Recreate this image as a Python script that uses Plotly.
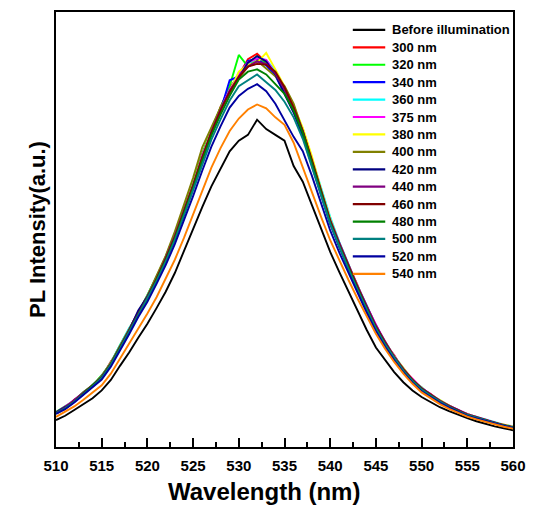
import plotly.graph_objects as go

wavelength = [510, 511, 512, 513, 514, 515, 516, 517, 518, 519,
              520, 521, 522, 523, 524, 525, 526, 527, 528, 529,
              530, 531, 532, 533, 534, 535, 536, 537, 538, 539,
              540, 541, 542, 543, 544, 545, 546, 547, 548, 549,
              550, 551, 552, 553, 554, 555, 556, 557, 558, 559, 560]

before = [69, 80, 95, 110, 125, 145, 172, 208, 242, 280,
          316, 356, 398, 446, 502, 561, 615, 668, 712, 758,
          785, 800, 839, 815, 800, 785, 720, 680, 620, 560,
          500, 448, 398, 348, 300, 255, 222, 192, 166, 145,
          128, 114, 102, 92, 82, 74, 66, 59, 53, 48, 43]
nm300 = [89, 97, 121, 135, 160, 179, 219, 252, 302, 346,
         381, 436, 478, 543, 612, 671, 750, 804, 872, 921,
         953, 994, 1008, 986, 965, 912, 871, 798, 732, 648,
         583, 515, 466, 414, 353, 311, 265, 236, 196, 174,
         149, 136, 116, 107, 92, 85, 75, 70, 61, 57, 51]
nm320 = [90, 104, 119, 141, 158, 184, 216, 261, 303, 344,
         390, 436, 488, 546, 610, 680, 752, 815, 872, 925,
         1005, 975, 1002, 982, 955, 910, 860, 802, 725, 655,
         575, 520, 458, 410, 355, 312, 263, 233, 201, 170,
         153, 131, 120, 104, 95, 82, 77, 68, 63, 55, 52]
nm340 = [88, 101, 116, 139, 155, 182, 212, 259, 297, 343,
         380, 430, 486, 536, 603, 668, 740, 806, 862, 940,
         950, 990, 995, 978, 952, 905, 858, 796, 722, 645,
         572, 512, 458, 402, 355, 303, 265, 228, 198, 170,
         148, 133, 116, 104, 92, 82, 75, 68, 62, 55, 50]
nm360 = [86, 102, 118, 136, 160, 178, 217, 262, 305, 338,
         386, 438, 480, 548, 601, 678, 742, 812, 866, 912,
         960, 982, 998, 992, 965, 922, 872, 815, 740, 662,
         590, 525, 468, 412, 362, 310, 270, 233, 202, 171,
         152, 134, 119, 106, 94, 84, 77, 70, 63, 57, 53]
nm375 = [88, 103, 120, 138, 156, 181, 213, 257, 301, 342,
         385, 430, 485, 538, 607, 670, 748, 808, 866, 916,
         955, 986, 996, 992, 958, 918, 868, 808, 735, 652,
         580, 520, 465, 412, 360, 314, 268, 233, 200, 175,
         151, 135, 119, 106, 95, 84, 77, 70, 63, 56, 52]
nm380 = [87, 99, 118, 137, 159, 177, 215, 255, 298, 341,
         382, 434, 481, 541, 604, 675, 744, 811, 864, 910,
         962, 980, 985, 1010, 968, 925, 875, 818, 745, 660,
         585, 522, 466, 410, 358, 309, 270, 232, 203, 173,
         150, 134, 120, 107, 93, 84, 76, 70, 62, 57, 52]
nm400 = [88, 101, 118, 140, 158, 181, 216, 258, 302, 345,
         388, 437, 490, 552, 620, 690, 768, 820, 870, 905,
         945, 975, 990, 970, 950, 925, 880, 810, 730, 648,
         575, 516, 460, 405, 355, 306, 266, 229, 197, 171,
         149, 132, 117, 104, 92, 82, 75, 68, 61, 55, 50]
nm420 = [89, 102, 117, 136, 156, 178, 212, 255, 299, 350,
         386, 428, 480, 536, 600, 668, 740, 805, 862, 912,
         948, 985, 1002, 988, 955, 908, 858, 800, 724, 648,
         575, 514, 460, 404, 354, 305, 264, 229, 197, 171,
         149, 132, 117, 104, 93, 82, 75, 68, 62, 55, 50]
nm440 = [87, 101, 121, 139, 158, 180, 214, 256, 300, 341,
         383, 431, 484, 541, 606, 672, 744, 808, 864, 912,
         950, 975, 988, 982, 958, 916, 868, 810, 732, 655,
         582, 524, 468, 412, 362, 312, 271, 232, 201, 173,
         151, 135, 119, 106, 94, 84, 77, 69, 62, 56, 51]
nm460 = [86, 100, 117, 137, 157, 179, 213, 255, 299, 339,
         383, 431, 482, 538, 603, 670, 742, 806, 862, 910,
         948, 975, 982, 980, 962, 922, 870, 810, 736, 656,
         580, 519, 463, 409, 357, 308, 267, 231, 199, 172,
         150, 133, 118, 105, 93, 83, 76, 69, 62, 56, 51]
nm480 = [86, 99, 116, 136, 156, 178, 212, 254, 297, 337,
         380, 428, 478, 534, 598, 664, 734, 798, 852, 900,
         942, 962, 968, 955, 930, 905, 862, 805, 728, 650,
         575, 515, 459, 405, 354, 305, 264, 228, 196, 170,
         148, 131, 116, 103, 92, 82, 75, 68, 61, 55, 50]
nm500 = [86, 99, 116, 135, 155, 177, 211, 252, 295, 336,
         378, 425, 475, 530, 593, 657, 726, 788, 840, 888,
         925, 940, 955, 935, 915, 885, 845, 790, 720, 645,
         572, 512, 456, 402, 352, 304, 263, 228, 196, 169,
         147, 131, 116, 103, 92, 82, 75, 68, 61, 55, 50]
nm520 = [85, 97, 114, 133, 152, 173, 206, 246, 289, 333,
         372, 418, 466, 520, 580, 643, 708, 770, 822, 870,
         900, 918, 930, 912, 880, 838, 795, 758, 695, 625,
         555, 498, 446, 392, 344, 297, 257, 222, 191, 165,
         143, 128, 113, 101, 90, 80, 73, 66, 60, 54, 49]
nm540 = [77, 90, 104, 121, 139, 158, 188, 226, 264, 302,
         342, 384, 430, 480, 536, 596, 658, 716, 766, 810,
         842, 865, 878, 868, 845, 826, 780, 716, 652, 590,
         530, 478, 428, 380, 334, 290, 252, 218, 188, 162,
         140, 124, 110, 98, 87, 78, 71, 64, 58, 52, 47]

series_names = ["Before illumination", "300 nm", "320 nm", "340 nm", "360 nm",
                "375 nm", "380 nm", "400 nm", "420 nm", "440 nm", "460 nm",
                "480 nm", "500 nm", "520 nm", "540 nm"]
series_values = [before, nm300, nm320, nm340, nm360, nm375, nm380, nm400,
                 nm420, nm440, nm460, nm480, nm500, nm520, nm540]
series_colors = ["#000000", "#FF0000", "#00FF00", "#0000FF", "#00FFFF",
                 "#FF00FF", "#FFFF00", "#808000", "#000080", "#800080",
                 "#800000", "#008000", "#008080", "#0000A0", "#FF8000"]

FONT = "Arial, Liberation Sans, sans-serif"

fig = go.Figure()
for name, vals, col in zip(series_names, series_values, series_colors):
    fig.add_trace(go.Scatter(x=wavelength, y=vals, name=name, mode="lines",
                             line=dict(color=col, width=1.9), showlegend=False))

# legend drawn as a compact key (line swatch + label), placed in paper coordinates
PLOT_W, PLOT_H = 465.0, 437.0
key_top_px, key_step_px = 18.0, 17.5
sw_x0, sw_x1, txt_x = 302.0 / PLOT_W, 335.0 / PLOT_W, 340.0 / PLOT_W
for i, (name, col) in enumerate(zip(series_names, series_colors)):
    yk = 1 - (key_top_px + key_step_px * i) / PLOT_H
    fig.add_shape(type="line", xref="paper", yref="paper",
                  x0=sw_x0, x1=sw_x1, y0=yk, y1=yk,
                  line=dict(color=col, width=2.2))
    fig.add_annotation(xref="paper", yref="paper", x=txt_x, y=yk,
                       xanchor="left", yanchor="middle", showarrow=False,
                       text=name, font=dict(family=FONT, size=13, color="black", weight="bold"))

# x-axis title centred on the page, as in the original figure
fig.add_annotation(xref="paper", yref="paper", x=(268 - 56) / PLOT_W,
                   y=-(492 - 447) / PLOT_H, xanchor="center", yanchor="middle",
                   showarrow=False, text="Wavelength (nm)",
                   font=dict(family=FONT, size=24, color="black", weight="bold"))

fig.update_layout(
    width=536, height=515,
    margin=dict(l=56, r=15, t=10, b=68),
    paper_bgcolor="white", plot_bgcolor="white",
    font=dict(family=FONT, color="black"),
    showlegend=False,
)
fig.update_xaxes(
    range=[510, 560], tickmode="linear", tick0=510, dtick=5,
    ticks="inside", ticklen=9, tickwidth=2, tickcolor="black",
    minor=dict(ticks="inside", ticklen=5, tickwidth=2, tickcolor="black",
               tickmode="linear", tick0=510, dtick=2.5, showgrid=False),
    showline=True, linewidth=2, linecolor="black", mirror=True,
    showgrid=False, zeroline=False, ticklabelstandoff=4,
    tickfont=dict(family=FONT, size=15, color="black", weight="bold"),
)
fig.update_yaxes(
    range=[0, 1115], showticklabels=False, ticks="",
    showline=True, linewidth=2, linecolor="black", mirror=True,
    showgrid=False, zeroline=False,
    title=dict(text="PL Intensity(a.u.)", standoff=2,
               font=dict(family=FONT, size=22, color="black", weight="bold")),
)

fig.write_html("out.html")
